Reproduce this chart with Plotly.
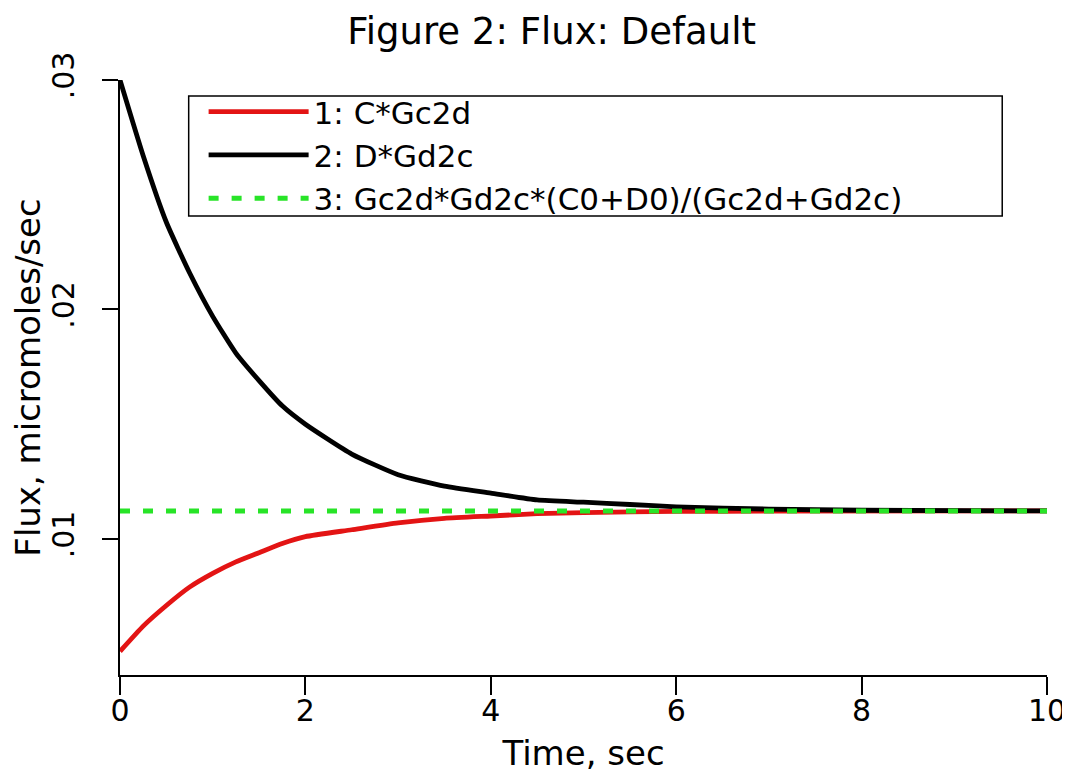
import plotly.graph_objects as go

time_black = [0, 0.25, 0.5, 0.75, 1.0, 1.25, 1.5, 1.75, 2.0, 2.5, 3.0, 3.5, 4.0, 4.5, 5.0, 5.5, 6.0, 7.0, 8.0, 10.0]
flux_black = [0.0300, 0.0267, 0.0238, 0.0216, 0.0197, 0.0181, 0.0169, 0.0158, 0.0150, 0.0137, 0.0128,
              0.0123, 0.0120, 0.0117, 0.0116, 0.0115, 0.0114, 0.0113, 0.01125, 0.01122]

time_red = [0, 0.25, 0.5, 0.75, 1.0, 1.25, 1.5, 1.75, 2.0, 2.5, 3.0, 3.5, 4.0, 4.5, 5.0, 6.0, 7.0, 10.0]
flux_red = [0.0051, 0.0062, 0.0071, 0.0079, 0.0085, 0.0090, 0.0094, 0.0098, 0.0101, 0.0104, 0.0107,
            0.0109, 0.0110, 0.0111, 0.01115, 0.0112, 0.01121, 0.01122]

time_green = [0, 10]
flux_green = [0.01122, 0.01122]

names = ["1: C*Gc2d", "2: D*Gd2c", "3: Gc2d*Gd2c*(C0+D0)/(Gc2d+Gd2c)"]
y_tickvals = [0.01, 0.02, 0.03]
y_ticktext = [".01", ".02", ".03"]
x_tickvals = [0, 2, 4, 6, 8, 10]

FONT = "DejaVu Sans"

fig = go.Figure()
fig.add_trace(go.Scatter(x=time_red, y=flux_red, mode="lines", name=names[0],
                         line=dict(color="#e31414", width=4.8, shape="spline", smoothing=0.5)))
fig.add_trace(go.Scatter(x=time_black, y=flux_black, mode="lines", name=names[1],
                         line=dict(color="#000000", width=4.8, shape="spline", smoothing=0.5)))
fig.add_trace(go.Scatter(x=time_green, y=flux_green, mode="lines", name=names[2],
                         line=dict(color="#28e428", width=5, dash="10px,13px")))

fig.update_layout(
    width=1070, height=774,
    margin=dict(l=111, r=28, t=72, b=107),
    paper_bgcolor="white", plot_bgcolor="white",
    font=dict(family=FONT, color="black", size=30),
    title=dict(text="Figure 2: Flux: Default", x=0.508, xref="container", xanchor="center",
               y=0.97, yref="container", yanchor="middle",
               font=dict(family=FONT, size=37, color="black")),
    showlegend=True,
    legend=dict(x=0.0902, y=0.9916, xanchor="left", yanchor="top",
                borderwidth=0, bgcolor="rgba(0,0,0,0)",
                font=dict(family=FONT, size=31, color="black"),
                tracegroupgap=0, itemwidth=100),
    shapes=[dict(type="rect", xref="paper", yref="paper",
                 x0=0.0741, x1=0.9517, y0=0.7714, y1=0.973,
                 line=dict(color="black", width=1.5), fillcolor="white", layer="below")],
)
fig.update_xaxes(range=[0, 10], tickvals=x_tickvals, ticks="outside", ticklen=18, tickwidth=2,
                 tickcolor="black", showline=True, linecolor="black", linewidth=2,
                 showgrid=False, zeroline=False, ticklabelstandoff=-10,
                 title=dict(text="Time, sec", font=dict(family=FONT, size=34), standoff=14),
                 tickfont=dict(family=FONT, size=30))
fig.update_yaxes(range=[0.00407, 0.030], tickvals=y_tickvals, ticktext=y_ticktext, tickangle=-90,
                 ticks="outside", ticklen=16, tickwidth=2, tickcolor="black",
                 showline=True, linecolor="black", linewidth=2, showgrid=False, zeroline=False,
                 ticklabelstandoff=16,
                 title=dict(text="Flux, micromoles/sec", font=dict(family=FONT, size=34), standoff=2),
                 tickfont=dict(family=FONT, size=30))

fig.write_html("out.html")
